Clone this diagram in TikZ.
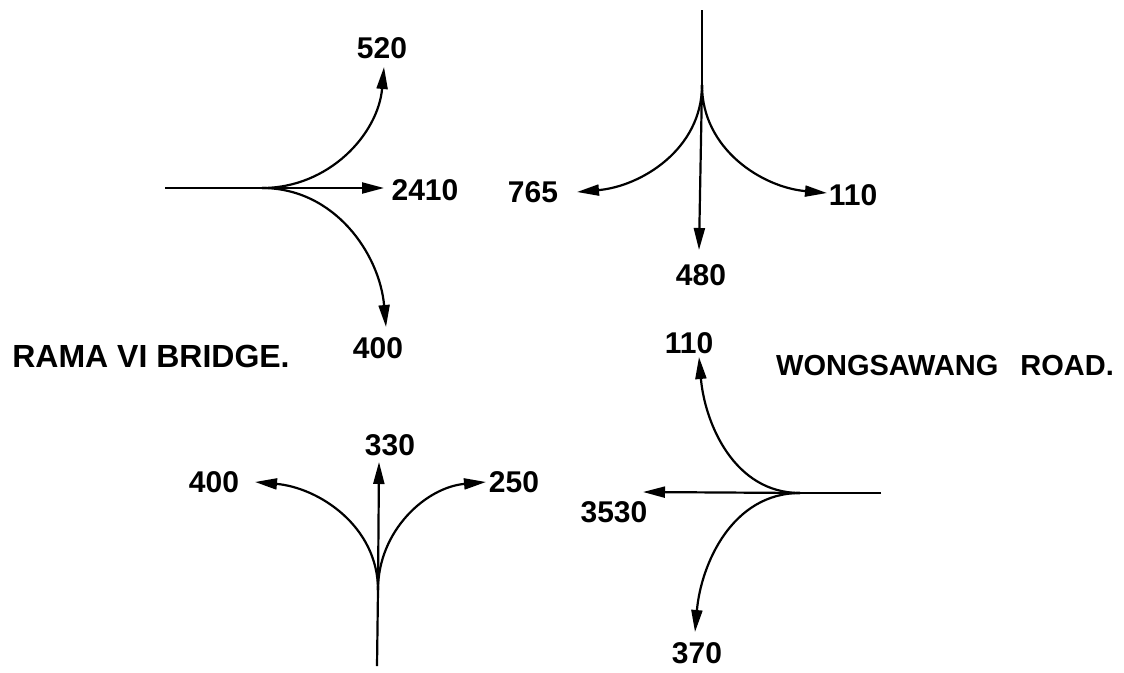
\documentclass[tikz,border=0pt]{standalone}
\usepackage{fontspec}
\setmainfont{Liberation Sans}
\usetikzlibrary{arrows.meta}
\begin{document}
\begin{tikzpicture}[x=1pt,y=-1pt,
  road/.style={line width=2.2pt},
  flow/.style={line width=2.2pt,-{Triangle[length=22pt,width=11pt]}},
  num/.style={font=\bfseries\fontsize{30}{33}\selectfont,inner sep=0pt},
  title/.style={font=\bfseries\fontsize{32}{35}\selectfont,inner sep=0pt}]
\useasboundingbox[fill=white] (0,0) rectangle (1124,672);
% ---- top-left junction
\coordinate (ja) at (262,188);
\coordinate (sa) at (165,188);
\coordinate (ta1) at (384,67);
\coordinate (ta2) at (384,188);
\coordinate (ta3) at (386,327);
\draw[road] (sa) -- (ja);
\draw[flow] (ja) to[out=0,in=-95] (ta1);
\draw[flow] (ja) -- (ta2);
\draw[flow] (ja) to[out=0,in=95] (ta3);
\node[num] (la1) at (382,48) {520};
\node[num] (la2) at (425,190) {2410};
\node[num] (la3) at (378,348) {400};
% ---- top-right junction
\coordinate (jb) at (702,85);
\coordinate (sb) at (702,10);
\coordinate (tb1) at (577,192);
\coordinate (tb2) at (699,250);
\coordinate (tb3) at (827,193);
\draw[road] (sb) -- (jb);
\draw[flow] (jb) to[out=-90,in=5] (tb1);
\draw[flow] (jb) -- (tb2);
\draw[flow] (jb) to[out=-90,in=175] (tb3);
\node[num] (lb1) at (533,192) {765};
\node[num] (lb2) at (701,275) {480};
\node[num] (lb3) at (853,195) {110};
% ---- bottom-left junction
\coordinate (jc) at (378,590);
\coordinate (sc) at (377,666);
\coordinate (tc1) at (255,482);
\coordinate (tc2) at (379,462);
\coordinate (tc3) at (486,482);
\draw[road] (sc) -- (jc);
\draw[flow] (jc) to[out=90,in=-5] (tc1);
\draw[flow] (jc) -- (tc2);
\draw[flow] (jc) to[out=90,in=185] (tc3);
\node[num] (lc1) at (214,482) {400};
\node[num] (lc2) at (390,445) {330};
\node[num] (lc3) at (514,482) {250};
% ---- bottom-right junction
\coordinate (jd) at (800,493);
\coordinate (sd) at (881,493);
\coordinate (td1) at (699,357);
\coordinate (td2) at (643,492);
\coordinate (td3) at (695,632);
\draw[road] (sd) -- (jd);
\draw[flow] (jd) to[out=180,in=-85] (td1);
\draw[flow] (jd) -- (td2);
\draw[flow] (jd) to[out=180,in=85] (td3);
\node[num] (ld1) at (689,343) {110};
\node[num] (ld2) at (614,512) {3530};
\node[num] (ld3) at (697,653) {370};
% ---- titles
\node[title] (rama) at (151,356) {RAMA VI BRIDGE.};
\node[title,font=\bfseries\fontsize{29}{32}\selectfont] (wong) at (945,366) {WONGSAWANG\hspace{22pt}ROAD.};
\end{tikzpicture}
\end{document}
